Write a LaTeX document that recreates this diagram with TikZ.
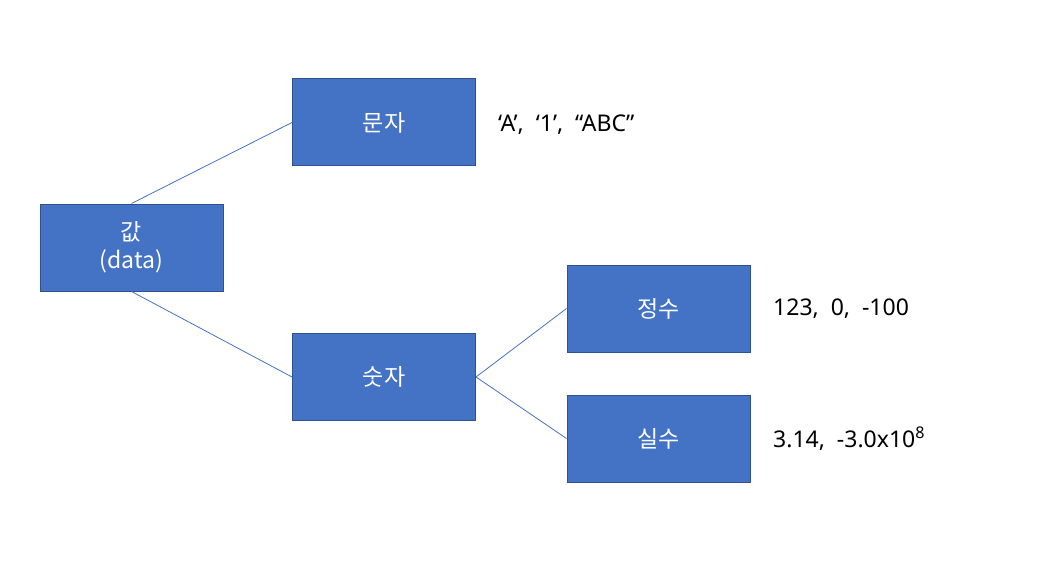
\documentclass[tikz,border=0pt]{standalone}
\usepackage{fontspec}
\setmainfont{Noto Sans}
\newfontfamily\kr{Noto Sans CJK KR}
\definecolor{boxfill}{HTML}{4472C4}
\definecolor{boxline}{HTML}{2F528F}
\definecolor{linkc}{HTML}{4472C4}
\begin{document}
\begin{tikzpicture}[x=1pt,y=-1pt,
  box/.style={draw=boxline,line width=1pt,fill=boxfill,minimum width=183pt,minimum height=87pt,inner sep=0pt,text=white,font=\fontsize{23}{28}\kr,align=center},
  lbl/.style={anchor=west,inner sep=0pt,font=\fontsize{23}{28}\selectfont},
  link/.style={draw=linkc,line width=0.8pt}]
\useasboundingbox (0,0) rectangle (1038,564);
\node[box] (val) at (131.5,247.5) {값\\(data)};
\node[box] (chr) at (384,122.5) {문자};
\node[box] (num) at (384,377) {숫자};
\node[box] (int) at (658.5,308.5) {정수};
\node[box] (real) at (658.5,438.5) {실수};
\node[lbl] (lchr) at (498,125) {‘A’,\ \ ‘1’,\ \ “ABC”};
\node[lbl] (lint) at (773,309) {123,\ \ 0,\ \ -100};
\node[lbl] (lreal) at (773,439) {3.14,\ \ -3.0x10\textsuperscript{8}};
\draw[link] (val.north) -- (chr.west);
\draw[link] (val.south) -- (num.west);
\draw[link] (num.east) -- (int.west);
\draw[link] (num.east) -- (real.west);
\end{tikzpicture}
\end{document}
